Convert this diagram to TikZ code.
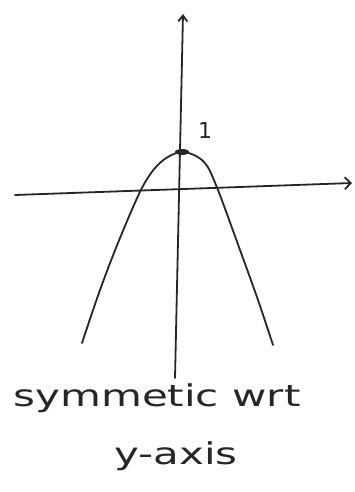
\documentclass[tikz,border=0pt]{standalone}
\usepackage{fontspec}
\setmainfont{DejaVu Sans}
\usetikzlibrary{arrows.meta}
\begin{document}
\begin{tikzpicture}[x=1pt,y=-1pt,
  pen/.style={line width=1.8pt,draw=black!85,line cap=round,line join=round},
  hand/.style={font=\fontsize{30}{34}\selectfont,text=black!85,inner sep=0pt,xscale=1.4,transform shape}]
\useasboundingbox[fill=white] (0,0) rectangle (355,492);
% axes
\coordinate (ybot) at (175,378);
\coordinate (ytop) at (183,14);
\coordinate (xl) at (15,195);
\coordinate (xr) at (352,183);
\draw[pen,-{Straight Barb[length=6pt,width=9pt]}] (ybot) -- (ytop);
\draw[pen,-{Straight Barb[length=6pt,width=12pt]}] (xl) -- (xr);
% parabola
\coordinate (v) at (182,152);
\draw[pen] plot[smooth,tension=0.55] coordinates {(82,343) (100,290) (120,238) (143,186) (161,162) (182,152) (203,161) (216,185) (240,250) (258,300) (273,345)};
\fill[black!85] (v) ellipse (7pt and 3pt);
\node[hand,font=\fontsize{22}{24}\selectfont,xscale=1/1.4] (one) at (205,130) {1};
\node[hand] (t1) at (157,398) {symmetic wrt};
\node[hand] (t2) at (176,456) {y-axis};
\end{tikzpicture}
\end{document}
